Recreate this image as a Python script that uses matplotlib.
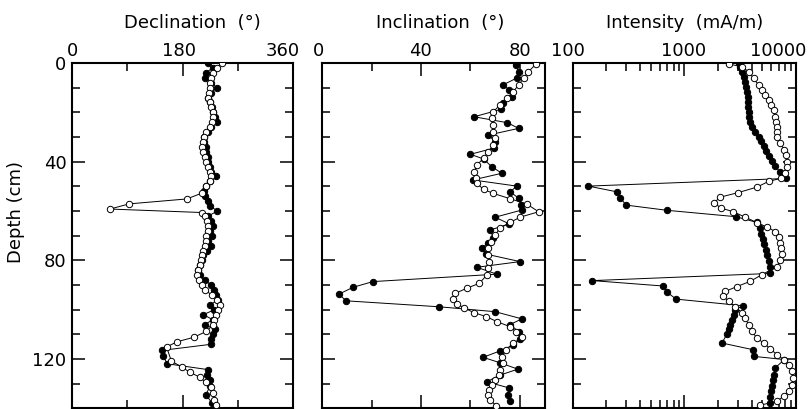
import matplotlib
matplotlib.use("Agg")
import matplotlib.pyplot as plt
from matplotlib.ticker import FixedLocator, MultipleLocator, LogLocator, NullFormatter
from matplotlib.transforms import offset_copy

plt.rcParams['font.family'] = ['DejaVu Sans', 'Liberation Sans']
plt.rcParams['font.size'] = 13

# ---- declination (deg) ----
dec_open_depth = [0, 2, 4, 6, 8, 10, 12, 14, 16, 18, 20, 22, 24, 26, 28, 30, 32, 34, 36, 38,
                  40, 42, 44, 46, 48, 50, 52.8, 55.1, 57.1, 59.2, 60.6, 62, 64, 66, 68, 70, 72,
                  74, 76, 78, 80, 82, 84, 86, 88, 90, 92, 94, 96, 98, 100, 102, 104, 106, 108.8,
                  111.2, 113, 115.1, 120.9, 123.2, 125.4, 127.3, 129.5, 131.5, 133.7, 136.4, 138.5]
dec_open = [244, 236, 229, 226, 225, 225, 223, 222, 224, 226, 229, 230, 228, 224, 219, 215, 213,
            212, 214, 216, 219, 221, 224, 226, 224, 218, 211, 187, 93, 62, 211, 216, 220, 222,
            221, 219, 218, 216, 214, 212, 210, 208, 205, 204, 207, 212, 216, 228, 236, 241, 238,
            235, 232, 230, 219, 198, 171, 154, 162, 179, 192, 208, 218, 226, 230, 232, 234]
dec_fill_depth = list(range(0, 115, 2)) + [116.5, 118.9, 121.9, 124.3, 126.3, 128.3, 131, 134.4, 137.8]
dec_fill = [222, 229, 218, 216, 226, 236, 226, 222, 225, 228,
            229, 233, 236, 226, 222, 215, 215, 218, 219, 221,
            222, 224, 227, 234, 224, 219, 215, 217, 221, 225,
            237, 222, 227, 229, 225, 228, 222, 226, 220, 214,
            211, 208, 206, 209, 216, 227, 231, 235, 238, 225,
            232, 214, 229, 217, 233, 229, 226, 227,
            146, 149, 155, 222, 220, 224, 225, 218, 228]

# ---- inclination (deg) ----
inc_open_depth = [0.5, 3.5, 6.2, 8.9, 11.6, 14.3, 17, 19.7, 22.4, 25.1, 27.8, 30.5, 33.2, 35.9,
                  38.6, 41.4, 44.1, 46.8, 48.8, 51.2, 52.8, 55, 57.2, 60.3, 62.5, 64.6, 67, 69.7,
                  72.4, 75.1, 77.8, 80.5, 83.2, 86, 89.3, 91.3, 93.4, 95.8, 97.5, 99.2, 101.2,
                  102.8, 104.9, 106.9, 109, 111.2, 113.6, 116.3, 119, 121.7, 124.4, 126.5, 128.5,
                  130.5, 132.5, 134.6, 136.6, 138.9]
inc_open = [86.5, 83.5, 81.5, 79.5, 77.4, 74.7, 72, 69.3, 68.6, 69, 69.3, 69.8, 69.3, 67.3,
            65.3, 62.6, 61.5, 62.2, 62.6, 65.3, 69.1, 76, 82.9, 87.6, 80.1, 76.1, 72, 70,
            68.2, 67.3, 67.3, 67.7, 67.3, 66.6, 63.6, 58.5, 53.8, 52.9, 54.5, 57.2, 61.5,
            66.4, 70.9, 76.1, 78.5, 80.8, 77.4, 74.5, 72.7, 73.1, 72, 71.4, 70,
            68.7, 67.7, 67.3, 68, 70.4]
inc_fill_depth = [0.8, 3.5, 6, 8.9, 10.9, 13.6, 16.3, 18.8, 21.8, 24.2, 26.5, 29.2, 31.9, 34.5,
                  37, 38.9, 42, 44.7, 47.4, 49.9, 52.2, 54.8, 57.6, 59.6, 62.5, 65.2, 67.7, 70.8,
                  73, 75.1, 77.5, 80.5, 82.8, 85.6, 88.6, 90.9, 93.7, 96.4, 98.8, 100.8, 103.7,
                  106, 108.9, 112, 114.3, 116.7, 119.3, 121.5, 124.1, 126.5, 129.2, 131.7, 134.6,
                  137.2]
inc_fill = [78.5, 79.5, 79, 73.1, 75.8, 77, 73, 72.3, 61.5, 75, 79.5, 67.3, 70, 69.5,
            60, 65.3, 68.6, 72.7, 61, 78.8, 76.1, 79.5, 80.5, 80.8, 70, 75.7, 68, 69.3,
            67, 64.6, 66.5, 80.1, 62.6, 70.7, 20.5, 12.5, 6.7, 9.7, 47.2, 70, 80.8,
            76.1, 79.5, 80, 77.4, 72, 65.1, 72, 79.2, 72, 66.6, 75.6, 75.4,
            76]

# ---- intensity (mA/m) ----
int_open_depth = [0.4, 1.5, 3.5, 6.2, 8.9, 10.9, 13, 15, 17, 19, 21.7, 23.8, 25.8, 27.8, 29.8,
                  32.5, 35.2, 37.2, 40, 42, 44.7, 46.7, 48, 50.3, 52.5, 54.4, 56.6, 58.8, 60.2,
                  62.5, 64.7, 66.5, 68.3, 70.6, 73, 75, 77.3, 79.8, 82.5, 85.8, 88.5, 90.6, 92.6,
                  94.6, 96.6, 98.7, 101.3, 103.4, 106.1, 108.8, 111.5, 113.5, 115.9, 118.2, 120.2,
                  122.3, 125, 127.7, 130.4, 133.1, 135.1, 137.1, 138.7]
int_open = [2490, 3280, 3760, 4170, 4620, 4950, 5310, 5680, 5970, 6310, 6520, 6650, 6760, 6760,
            6760, 7230, 7850, 8180, 8300, 8300, 8020, 7380, 5680, 4470, 3050, 2090, 1850, 2120,
            2720, 3510, 4470, 5500, 6520, 6980, 7230, 7340, 7440, 7230, 6760, 4950, 3890, 2960,
            2320, 2240, 2490, 2860, 3280, 3510, 3760, 4030, 4470, 5130, 5890, 6760, 7750,
            8590, 9200, 9390, 9200, 8590, 7750, 6760, 4790]
int_fill_depth = [0.1, 1.5, 3.5, 5.5, 7.6, 9.6, 11.6, 13.6, 15.7, 17.7, 19.7, 21.8, 23.8, 25.8,
                  27.8, 29.9, 31.6, 33.5, 35.5, 37.6, 39.6, 41.8, 44.1, 46.8, 49.9, 52.2, 54.6,
                  57.6, 59.7, 62.3, 64.6, 67, 69.3, 71.4, 73.5, 75.8, 77.8, 80.3, 82.8, 85.3,
                  88.2, 90.4, 92.9, 95.7, 98.4, 100, 102, 104, 106, 108, 110, 113.5, 116.2, 118.9,
                  120.2, 123.6, 126.3, 128.3, 130.8, 133, 135.3, 137.8]
int_fill = [3060, 3170, 3280, 3400, 3520, 3590, 3640, 3690, 3720, 3720, 3760, 3810, 3890, 4050,
            4310, 4620, 4850, 5130, 5420, 5770, 6090, 6530, 7130, 8190, 138, 248, 266,
            301, 697, 2900, 4460, 4720, 4890, 5060, 5200, 5380, 5500, 5690, 5890, 5890,
            150, 650, 700, 844, 3350, 2860, 2760, 2670, 2570, 2510, 2400, 2170, 4110, 4170,
            7850, 6510, 6310, 6220, 6130, 6000, 5890, 5800]

W, H = 811, 409
fig = plt.figure(figsize=(W / 100, H / 100), dpi=100)


def add_panel(x0, x1, y0=63, y1=408.4):
    return fig.add_axes([x0 / W, 1 - y1 / H, (x1 - x0) / W, (y1 - y0) / H])


ax1 = add_panel(72, 293)
ax2 = add_panel(322.3, 544.5)
ax3 = add_panel(572.7, 796)

line_kw = dict(color='k', lw=0.7, marker='o', ms=4.6, mec='k', mew=0.7)
for ax, xf, df, xo, do in [(ax1, dec_fill, dec_fill_depth, dec_open, dec_open_depth),
                           (ax2, inc_fill, inc_fill_depth, inc_open, inc_open_depth),
                           (ax3, int_fill, int_fill_depth, int_open, int_open_depth)]:
    ax.plot(xf, df, mfc='k', zorder=3, **line_kw)
    ax.plot(xo, do, mfc='white', zorder=4, **line_kw)
    ax.set_ylim(140, 0)
    ax.yaxis.set_major_locator(MultipleLocator(40))
    ax.yaxis.set_minor_locator(MultipleLocator(10))
    ax.tick_params(which='both', direction='in', top=True, bottom=True, left=True, right=True,
                   labeltop=False, labelbottom=False, labelleft=False, width=1.1, color='k')
    ax.tick_params(which='major', length=9.5, pad=4)
    ax.tick_params(which='minor', length=6)
    for s in ax.spines.values():
        s.set_linewidth(1.5)

ax1.tick_params(axis='y', labelleft=True)

ax1.set_xlim(0, 360)
ax1.xaxis.set_major_locator(FixedLocator([0, 180, 360]))
ax1.xaxis.set_minor_locator(FixedLocator([90, 270]))

ax2.set_xlim(0, 90)
ax2.xaxis.set_major_locator(FixedLocator([0, 40, 80]))
ax2.xaxis.set_minor_locator(FixedLocator([20, 60]))

ax3.set_xscale('log')
ax3.set_xlim(100, 10000)
ax3.xaxis.set_major_locator(LogLocator(base=10))
ax3.xaxis.set_minor_locator(LogLocator(base=10, subs=range(2, 10)))
ax3.xaxis.set_minor_formatter(NullFormatter())
ax3.tick_params(axis='x', which='minor', length=5.5)

# top scale labels (nudged like the original so the end labels stay inside)
top_labels = [(ax1, [(0, '0', 0), (180, '180', -3), (360, '360', -10)]),
              (ax2, [(0, '0', -4), (40, '40', -1), (80, '80', 0)]),
              (ax3, [(100, '100', -5), (1000, '1000', -1), (10000, '10000', -18)])]
for ax, items in top_labels:
    for xv, txt, dx in items:
        tr = offset_copy(ax.get_xaxis_transform(), fig=fig, x=dx, y=7, units='dots')
        ax.text(xv, 1, txt, transform=tr, ha='center', va='baseline', clip_on=False)

for xc, txt in [(192.5, 'Declination  (°)'), (439.7, 'Inclination  (°)'),
                (684.5, 'Intensity  (mA/m)')]:
    fig.text(xc / W, 1 - 28.5 / H, txt, ha='center', va='baseline')

fig.text(16 / W, 1 - 212 / H, 'Depth (cm)', rotation=90, ha='center', va='center')

fig.savefig('out.png', dpi=100)
